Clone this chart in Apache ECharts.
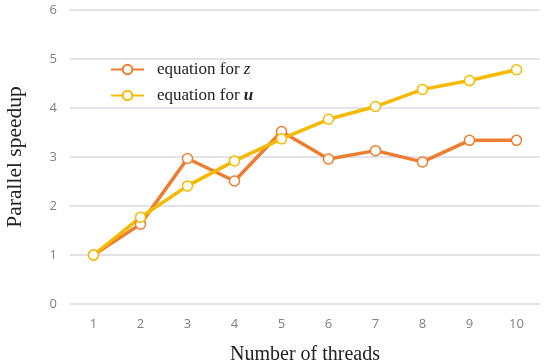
<!DOCTYPE html>
<html>
<head>
<meta charset="utf-8">
<script src="https://cdn.jsdelivr.net/npm/echarts@6/dist/echarts.min.js"></script>
<style>html,body{margin:0;padding:0;background:#fff}#c{width:550px;height:363px}</style>
</head>
<body>
<div id="c"></div>
<script>
const threads = ['1','2','3','4','5','6','7','8','9','10'];
const zSpeedup = [1.00, 1.63, 2.97, 2.51, 3.52, 2.96, 3.13, 2.90, 3.34, 3.34];
const uSpeedup = [1.00, 1.77, 2.41, 2.92, 3.37, 3.77, 4.03, 4.38, 4.56, 4.78];
const yTicks = { min: 0, max: 6, interval: 1 };

const chart = echarts.init(document.getElementById('c'), null, { renderer: 'canvas' });
const serif = '"Liberation Serif", "DejaVu Serif", serif';
chart.setOption({
  animation: false,
  grid: { left: 70, right: 10, top: 10, bottom: 59, containLabel: false, outerBoundsMode: 'none' },
  legend: {
    orient: 'vertical', left: 105, top: 56, itemWidth: 33, itemHeight: 12, itemGap: 9,
    data: ['z', 'u'],
    formatter: n => n === 'z' ? 'equation for {z|z}' : 'equation for {u|u}',
    textStyle: {
      fontFamily: serif, fontSize: 17, color: '#222', padding: [0, 0, 0, 8],
      rich: {
        z: { fontFamily: serif, fontSize: 17, fontStyle: 'italic', color: '#222' },
        u: { fontFamily: serif, fontSize: 17, fontStyle: 'italic', fontWeight: 'bold', color: '#222' }
      }
    }
  },
  xAxis: {
    type: 'category', data: threads, boundaryGap: true,
    name: 'Number of threads', nameLocation: 'middle', nameGap: 41,
    nameTextStyle: { fontFamily: serif, fontSize: 20, color: '#222' },
    axisLine: { show: false }, axisTick: { show: false },
    axisLabel: { color: '#7f7f7f', fontSize: 13, margin: 14, fontFamily: '"Open Sans", sans-serif' }
  },
  yAxis: {
    type: 'value', min: yTicks.min, max: yTicks.max, interval: yTicks.interval,
    name: 'Parallel speedup', nameLocation: 'middle', nameGap: 44,
    nameTextStyle: { fontFamily: serif, fontSize: 21.5, color: '#222' },
    axisLine: { show: false }, axisTick: { show: false },
    axisLabel: { color: '#7f7f7f', fontSize: 13, margin: 13, fontFamily: '"Open Sans", sans-serif' },
    splitLine: { lineStyle: { color: '#d9d9e0', width: 1.5 } }
  },
  series: [
    { name: 'z', type: 'line', data: zSpeedup, symbol: 'circle', symbolSize: 10,
      lineStyle: { color: '#ED7D31', width: 3.5 },
      itemStyle: { color: '#fff', borderColor: '#ED7D31', borderWidth: 1.5 } },
    { name: 'u', type: 'line', data: uSpeedup, symbol: 'circle', symbolSize: 10,
      lineStyle: { color: '#F5BA00', width: 3.5 },
      itemStyle: { color: '#fff', borderColor: '#F5BA00', borderWidth: 1.5 } }
  ]
});
</script>
</body>
</html>
